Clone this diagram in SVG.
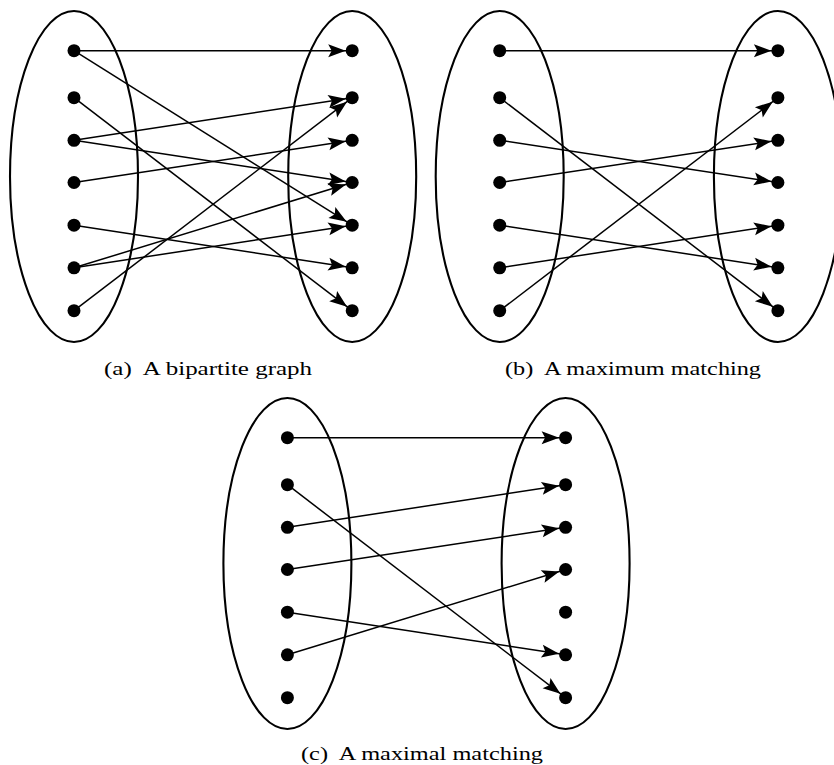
<svg xmlns="http://www.w3.org/2000/svg" width="834" height="765" viewBox="0 0 834 765">
<style>
.set{fill:none;stroke:#000;stroke-width:2.1}
.edge{stroke:#000;stroke-width:1.5;fill:none;marker-end:url(#arr)}
.dot{fill:#000}
.cap{font-family:"Liberation Serif","Times New Roman",serif;font-size:19px;fill:#000}
</style>
<defs>
<marker id="arr" markerUnits="userSpaceOnUse" markerWidth="30" markerHeight="14" refX="24" refY="0" orient="auto" overflow="visible">
<path d="M0,-6.5 L17.5,0 L0,6.5 L3.5,0 Z" fill="#000"/>
</marker>
</defs>
<rect width="834" height="765" fill="#fff"/>
<g id="sets">
<g id="a-setL"><ellipse class="set" cx="74" cy="176.5" rx="64" ry="165.5"/></g>
<g id="a-setR"><ellipse class="set" cx="352.2" cy="176.5" rx="64" ry="165.5"/></g>
<g transform="translate(425.7,0)">
<g id="b-setL"><ellipse class="set" cx="74" cy="176.5" rx="64" ry="165.5"/></g>
<g id="b-setR"><ellipse class="set" cx="352.2" cy="176.5" rx="64" ry="165.5"/></g>
</g>
<g transform="translate(213.4,387)">
<g id="c-setL"><ellipse class="set" cx="74" cy="176.5" rx="64" ry="165.5"/></g>
<g id="c-setR"><ellipse class="set" cx="352.2" cy="176.5" rx="64" ry="165.5"/></g>
</g>
</g>
<g id="connectors">
<g id="a-edges">
<line class="edge" x1="74" y1="50.7" x2="352.2" y2="50.7"/>
<line class="edge" x1="74" y1="50.7" x2="352.2" y2="225.2"/>
<line class="edge" x1="74" y1="97.7" x2="352.2" y2="310.7"/>
<line class="edge" x1="74" y1="140.3" x2="352.2" y2="97.7"/>
<line class="edge" x1="74" y1="140.3" x2="352.2" y2="182.5"/>
<line class="edge" x1="74" y1="182.5" x2="352.2" y2="140.3"/>
<line class="edge" x1="74" y1="225.2" x2="352.2" y2="267.8"/>
<line class="edge" x1="74" y1="267.8" x2="352.2" y2="182.5"/>
<line class="edge" x1="74" y1="267.8" x2="352.2" y2="225.2"/>
<line class="edge" x1="74" y1="310.7" x2="352.2" y2="97.7"/>
</g>
<g id="b-edges" transform="translate(425.7,0)">
<line class="edge" x1="74" y1="50.7" x2="352.2" y2="50.7"/>
<line class="edge" x1="74" y1="97.7" x2="352.2" y2="310.7"/>
<line class="edge" x1="74" y1="140.3" x2="352.2" y2="182.5"/>
<line class="edge" x1="74" y1="182.5" x2="352.2" y2="140.3"/>
<line class="edge" x1="74" y1="225.2" x2="352.2" y2="267.8"/>
<line class="edge" x1="74" y1="267.8" x2="352.2" y2="225.2"/>
<line class="edge" x1="74" y1="310.7" x2="352.2" y2="97.7"/>
</g>
<g id="c-edges" transform="translate(213.4,387)">
<line class="edge" x1="74" y1="50.7" x2="352.2" y2="50.7"/>
<line class="edge" x1="74" y1="97.7" x2="352.2" y2="310.7"/>
<line class="edge" x1="74" y1="140.3" x2="352.2" y2="97.7"/>
<line class="edge" x1="74" y1="182.5" x2="352.2" y2="140.3"/>
<line class="edge" x1="74" y1="225.2" x2="352.2" y2="267.8"/>
<line class="edge" x1="74" y1="267.8" x2="352.2" y2="182.5"/>
</g>
</g>
<g id="panel-a-nodes">
<g id="a-L0"><circle class="dot" cx="74" cy="50.7" r="6.5"/></g>
<g id="a-L1"><circle class="dot" cx="74" cy="97.7" r="6.5"/></g>
<g id="a-L2"><circle class="dot" cx="74" cy="140.3" r="6.5"/></g>
<g id="a-L3"><circle class="dot" cx="74" cy="182.5" r="6.5"/></g>
<g id="a-L4"><circle class="dot" cx="74" cy="225.2" r="6.5"/></g>
<g id="a-L5"><circle class="dot" cx="74" cy="267.8" r="6.5"/></g>
<g id="a-L6"><circle class="dot" cx="74" cy="310.7" r="6.5"/></g>
<g id="a-R0"><circle class="dot" cx="352.2" cy="50.7" r="6.5"/></g>
<g id="a-R1"><circle class="dot" cx="352.2" cy="97.7" r="6.5"/></g>
<g id="a-R2"><circle class="dot" cx="352.2" cy="140.3" r="6.5"/></g>
<g id="a-R3"><circle class="dot" cx="352.2" cy="182.5" r="6.5"/></g>
<g id="a-R4"><circle class="dot" cx="352.2" cy="225.2" r="6.5"/></g>
<g id="a-R5"><circle class="dot" cx="352.2" cy="267.8" r="6.5"/></g>
<g id="a-R6"><circle class="dot" cx="352.2" cy="310.7" r="6.5"/></g>
</g>
<g id="panel-b-nodes" transform="translate(425.7,0)">
<g id="b-L0"><circle class="dot" cx="74" cy="50.7" r="6.5"/></g>
<g id="b-L1"><circle class="dot" cx="74" cy="97.7" r="6.5"/></g>
<g id="b-L2"><circle class="dot" cx="74" cy="140.3" r="6.5"/></g>
<g id="b-L3"><circle class="dot" cx="74" cy="182.5" r="6.5"/></g>
<g id="b-L4"><circle class="dot" cx="74" cy="225.2" r="6.5"/></g>
<g id="b-L5"><circle class="dot" cx="74" cy="267.8" r="6.5"/></g>
<g id="b-L6"><circle class="dot" cx="74" cy="310.7" r="6.5"/></g>
<g id="b-R0"><circle class="dot" cx="352.2" cy="50.7" r="6.5"/></g>
<g id="b-R1"><circle class="dot" cx="352.2" cy="97.7" r="6.5"/></g>
<g id="b-R2"><circle class="dot" cx="352.2" cy="140.3" r="6.5"/></g>
<g id="b-R3"><circle class="dot" cx="352.2" cy="182.5" r="6.5"/></g>
<g id="b-R4"><circle class="dot" cx="352.2" cy="225.2" r="6.5"/></g>
<g id="b-R5"><circle class="dot" cx="352.2" cy="267.8" r="6.5"/></g>
<g id="b-R6"><circle class="dot" cx="352.2" cy="310.7" r="6.5"/></g>
</g>
<g id="panel-c-nodes" transform="translate(213.4,387)">
<g id="c-L0"><circle class="dot" cx="74" cy="50.7" r="6.5"/></g>
<g id="c-L1"><circle class="dot" cx="74" cy="97.7" r="6.5"/></g>
<g id="c-L2"><circle class="dot" cx="74" cy="140.3" r="6.5"/></g>
<g id="c-L3"><circle class="dot" cx="74" cy="182.5" r="6.5"/></g>
<g id="c-L4"><circle class="dot" cx="74" cy="225.2" r="6.5"/></g>
<g id="c-L5"><circle class="dot" cx="74" cy="267.8" r="6.5"/></g>
<g id="c-L6"><circle class="dot" cx="74" cy="310.7" r="6.5"/></g>
<g id="c-R0"><circle class="dot" cx="352.2" cy="50.7" r="6.5"/></g>
<g id="c-R1"><circle class="dot" cx="352.2" cy="97.7" r="6.5"/></g>
<g id="c-R2"><circle class="dot" cx="352.2" cy="140.3" r="6.5"/></g>
<g id="c-R3"><circle class="dot" cx="352.2" cy="182.5" r="6.5"/></g>
<g id="c-R4"><circle class="dot" cx="352.2" cy="225.2" r="6.5"/></g>
<g id="c-R5"><circle class="dot" cx="352.2" cy="267.8" r="6.5"/></g>
<g id="c-R6"><circle class="dot" cx="352.2" cy="310.7" r="6.5"/></g>
</g>
<g id="captions">
<text class="cap" x="208" y="375" text-anchor="middle" textLength="208" lengthAdjust="spacingAndGlyphs">(a)&#160; A bipartite graph</text>
<text class="cap" x="633" y="375" text-anchor="middle" textLength="256" lengthAdjust="spacingAndGlyphs">(b)&#160; A maximum matching</text>
<text class="cap" x="422" y="760" text-anchor="middle" textLength="242" lengthAdjust="spacingAndGlyphs">(c)&#160; A maximal matching</text>
</g>
</svg>
